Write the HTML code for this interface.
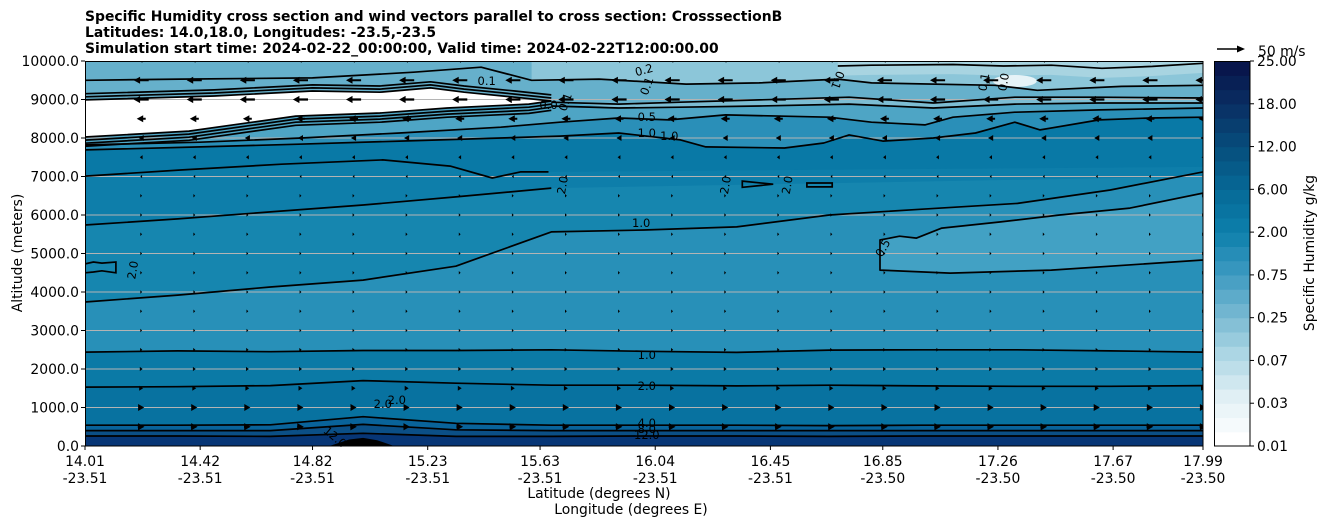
<!DOCTYPE html>
<html><head><meta charset="utf-8">
<style>
html,body{margin:0;padding:0;background:#fff;}
body{width:1326px;height:526px;overflow:hidden;font-family:"DejaVu Sans","Liberation Sans",sans-serif;}
svg{position:absolute;left:0;top:0;}
text{font-family:"DejaVu Sans","Liberation Sans",sans-serif;}
</style></head>
<body>
<svg id="chart" width="1326" height="526" viewBox="0 0 1326 526">
  <g font-weight="bold" font-size="13.9" fill="#000">
    <text x="85" y="21">Specific Humidity cross section and wind vectors parallel to cross section: CrosssectionB</text>
    <text x="85" y="37">Latitudes: 14.0,18.0, Longitudes: -23.5,-23.5</text>
    <text x="85" y="53">Simulation start time: 2024-02-22_00:00:00, Valid time: 2024-02-22T12:00:00.00</text>
  </g>
  <defs><clipPath id="plotclip"><rect x="85" y="61" width="1118" height="385"/></clipPath></defs>
  <g id="fills" clip-path="url(#plotclip)"></g>
  <g id="grid"></g>
  <g id="terrain" clip-path="url(#plotclip)"></g>
  <g id="contours" clip-path="url(#plotclip)"></g>
  <g id="clabels" font-size="11.5" fill="#000"></g>
  <g id="winds" clip-path="url(#plotclip)"></g>
  <rect x="85.5" y="61.5" width="1117.5" height="384.5" fill="none" stroke="#000" stroke-width="1"/>
  <g id="yaxis" font-size="13.9"></g>
  <g id="xaxis" font-size="13.9"></g>
  <text x="0" y="0" font-size="13.9" text-anchor="middle" transform="translate(22,253) rotate(-90)">Altitude (meters)</text>
  <text x="599" y="498" font-size="13.9" text-anchor="middle">Latitude (degrees N)</text>
  <text x="631" y="514" font-size="13.9" text-anchor="middle">Longitude (degrees E)</text>
  <g id="colorbar" font-size="13.9"></g>
  <text x="0" y="0" font-size="13.9" text-anchor="middle" transform="translate(1314,253) rotate(-90)">Specific Humidity g/kg</text>
  <g>
    <polygon points="1217,48.2 1237,48.2 1237,45.5 1245,49 1237,52.5 1237,49.8 1217,49.8" fill="#000"/>
    <text x="1258" y="56" font-size="13.9">50 m/s</text>
  </g>
</svg>
<script>
// ---- axis domains ----
const lonMin = 14.01, lonMax = 17.99, altMax = 10000;
// ---- x tick labels ----
const xTickLat = [14.01,14.42,14.82,15.23,15.63,16.04,16.45,16.85,17.26,17.67,17.99];
const xTickLon = ["-23.51","-23.51","-23.51","-23.51","-23.51","-23.51","-23.51","-23.50","-23.50","-23.50","-23.50"];
const yTicks = [0,1000,2000,3000,4000,5000,6000,7000,8000,9000,10000];
// ---- colorbar ----
const cbTickLabels = ["0.01","0.03","0.07","0.25","0.75","2.00","6.00","12.00","18.00","25.00"];
// ---- contour data (lon deg, altitude m) ----
const gridLon = [14.01,14.34,14.67,15.00,15.33,15.67,16.00,16.33,16.66,16.99,17.33,17.66,17.99];
const q12Alt = [260,260,250,330,250,250,260,260,250,260,260,260,260];
const q8Alt = [400,400,400,560,420,400,400,400,400,400,400,400,400];
const q4Alt = [540,540,550,760,590,540,540,540,530,540,540,540,540];
const q2LowAlt = [1530,1540,1570,1700,1630,1580,1580,1560,1580,1560,1550,1550,1570];
const q1LowAlt = [2440,2470,2450,2480,2480,2500,2460,2430,2490,2500,2500,2470,2440];
const q1UpAlt = [3740,3920,4130,4310,4670,5560,5610,5690,6000,6150,6300,6650,7120];
const q2MidLon = [14.01,14.34,14.67,15.00,15.33,15.67];
const q2MidAlt = [5740,5900,6080,6260,6470,6700];
const q2UpLon = [14.01,14.35,14.71,15.07,15.31,15.46,15.56,15.66];
const q2UpAlt = [7010,7170,7320,7430,7270,6960,7120,7120];
const q1TopLon = [14.01,14.42,14.77,15.13,15.49,15.70,15.91,16.13,16.22,16.50,16.64,16.73,16.85,17.03,17.18,17.32,17.41,17.62,17.80,17.99];
const q1TopAlt = [7690,7770,7840,7920,8000,8050,8130,7950,7770,7740,7870,8080,7920,8000,8130,8410,8210,8470,8520,8540];
const q05Lon = [14.01,14.42,14.78,15.13,15.49,15.70,15.91,16.09,16.29,16.66,16.81,17.00,17.10,17.32,17.62,17.99];
const q05Alt = [7820,7890,8000,8130,8280,8410,8520,8470,8600,8540,8410,8340,8540,8670,8730,8780];
const q05LoopLon = [17.99,17.73,17.48,17.27,17.06,16.97,16.91,16.84,16.84,17.09,17.45,17.99];
const q05LoopAlt = [6570,6180,6000,5820,5660,5400,5450,5350,4570,4490,4570,4830];
const wBotLon = [14.01,14.38,14.76,15.06,15.30,15.59,15.67];
const wBotAlt = [8025,8180,8570,8650,8780,8880,8960];
const wTopLon = [14.01,14.47,14.82,15.06,15.24,15.36,15.54,15.67];
const wTopAlt = [8990,9090,9220,9190,9300,9190,9060,8960];
const r1Lon = [15.67,15.91,16.13,16.41,16.73,17.03,17.32,17.62,17.99];
const r1Alt = [8930,8880,8930,8990,9060,8910,9060,9060,9040];
const r2Lon = [15.67,15.91,16.13,16.41,16.73,17.03,17.32,17.62,17.99];
const r2Alt = [8830,8780,8800,8830,8880,8780,8880,8910,8910];
const q01Lon = [14.01,14.35,14.82,15.18,15.42,15.60,15.84,16.15,16.41,16.69,16.81,17.25,17.40,17.70,17.99];
const q01Alt = [9500,9530,9560,9710,9840,9500,9530,9400,9430,9530,9430,9370,9240,9340,9370];
const qTopLon = [16.69,16.81,17.10,17.28,17.45,17.63,17.81,17.99];
const qTopAlt = [9870,9890,9910,9870,9890,9810,9860,9940];
const q2BlobLon = [16.35,16.46,16.35];
const q2BlobAlt = [6880,6800,6720];
const q2Blob2Lon = [16.58,16.67,16.67,16.58];
const q2Blob2Alt = [6830,6830,6730,6730];
const q2Blob0Lon = [14.01,14.04,14.07,14.12,14.12,14.07,14.04,14.01];
const q2Blob0Alt = [4730,4780,4750,4780,4500,4550,4520,4500];
const terrainLon = [14.88,14.95,15.0,15.05,15.11];
const terrainAlt = [0,170,210,150,0];
// ---- contour labels ----
const labelText = ["12.0","8.0","4.0","2.0","1.0","1.0","2.0","2.0","2.0","2.0","0.5","1.0","1.0","0.5","0.1","0.2","0.1","0.1","0.1","0.0","0.0","0.1","2.0","2.0","12.0"];
const labelLon = [16.01,16.01,16.01,16.01,16.01,15.99,15.71,14.18,16.29,16.51,16.85,16.01,16.09,16.01,15.44,16.00,16.01,16.69,17.21,17.28,15.66,15.72,15.07,15.12,14.90];
const labelAlt = [286,441,597,1558,2363,5791,6778,4571,6778,6778,5142,8129,8051,8544,9479,9765,9349,9505,9453,9453,8856,8934,1091,1195,234];
const labelRot = [0,0,0,0,0,0,-80,-80,-80,-80,-60,0,0,0,0,-15,-70,110,-80,-80,0,-70,0,0,40];
// ---- wind (u component along section, m/s) by altitude row ----
const windAlt = [500,1000,1500,2000,2500,3000,3500,4000,4500,5000,5500,6000,6500,7000,7500,8000,8500,9000,9500,10000];
const windU = [12,11,7,5,4,2,1.5,1,1,1,1,1,1,-1,-5,-9,-16,-27,-27,-4];

const NS = "http://www.w3.org/2000/svg";
const PX0 = 85, PX1 = 1203, PY0 = 446, PY1 = 61;
function X(l){ return PX0 + (l - lonMin) / (lonMax - lonMin) * (PX1 - PX0); }
function Y(a){ return PY0 - a / altMax * (PY0 - PY1); }
function mk(tag, attrs, parent){ const e = document.createElementNS(NS, tag); for (const k in attrs) e.setAttribute(k, attrs[k]); parent.appendChild(e); return e; }
function pts(lons, alts){ return lons.map((l,i) => X(l).toFixed(1) + "," + Y(alts[i]).toFixed(1)).join(" "); }
function abovePts(lons, alts){ return pts(lons, alts) + " " + X(lons[lons.length-1]).toFixed(1) + ",50 " + X(lons[0]).toFixed(1) + ",50"; }

// ---- fills ----
const fills = document.getElementById("fills");
let e = mk("rect", {x:85, y:61, width:1118, height:385, fill:"#073676"}, fills);


const fillProfiles = [
  [gridLon, q12Alt, "#0b4f86"],
  [gridLon, q8Alt, "#09639a"],
  [gridLon, q4Alt, "#0872a0"],
  [gridLon, q2LowAlt, "#0b7aa6"],
  [gridLon, q1LowAlt, "#2890b8"],
  [gridLon, q1UpAlt, "#1686af"],
  [q2MidLon.concat([lonMax]), q2MidAlt.concat([7000]), "#0e7eaa"],
  [q2UpLon.concat([lonMax]), q2UpAlt.concat([7250]), "#0979a6"],
  [q1TopLon, q1TopAlt, "#2a8fb8"],
  [q05Lon, q05Alt, "#4ea5c5"],
  [wBotLon.concat(r2Lon.slice(1)), wBotAlt.concat(r2Alt.slice(1)), "#7dbdd3"],
];
fillProfiles.forEach((f, i) => {
  const p = mk("polygon", {points: abovePts(f[0], f[1]), fill: f[2]}, fills);
  
  
});
e = mk("polygon", {points: pts(q05LoopLon, q05LoopAlt), fill:"#42a1c4"}, fills);


e = mk("polygon", {points: pts(wBotLon, wBotAlt) + " " + pts(wTopLon.slice().reverse(), wTopAlt.slice().reverse()), fill:"#ffffff"}, fills);


e = mk("polygon", {points: abovePts(wTopLon.concat(r1Lon.slice(1)), wTopAlt.concat(r1Alt.slice(1))), fill:"#66b0cb"}, fills);


e = mk("polygon", {points: abovePts(q01Lon.slice(5), q01Alt.slice(5)), fill:"#8cc6d9"}, fills);


e = mk("polygon", {points: abovePts(qTopLon, qTopAlt.map(a => a - 250)), fill:"#a8d4e1"}, fills);


e = mk("ellipse", {cx: X(17.32), cy: Y(9480), rx: 22, ry: 6, fill:"#e6f3f7"}, fills);



// ---- grid ----
const grid = document.getElementById("grid");
yTicks.slice(1, -1).forEach(t => {
  const g = mk("line", {x1:85, x2:1203, y1:Y(t), y2:Y(t), stroke:"#b4b4b4", "stroke-width":1}, grid);
  
  
});

// ---- terrain ----
e = mk("polygon", {points: pts(terrainLon, terrainAlt), fill:"#000"}, document.getElementById("terrain"));



// ---- contour lines ----
const cont = document.getElementById("contours");
const lineSets = [
  [gridLon, q12Alt], [gridLon, q8Alt], [gridLon, q4Alt], [gridLon, q2LowAlt], [gridLon, q1LowAlt],
  [gridLon, q1UpAlt], [q2MidLon, q2MidAlt], [q2UpLon, q2UpAlt], [q1TopLon, q1TopAlt], [q05Lon, q05Alt],
  [q05LoopLon, q05LoopAlt], [wBotLon, wBotAlt], [wTopLon, wTopAlt], [r1Lon, r1Alt], [r2Lon, r2Alt],
  [q01Lon, q01Alt], [qTopLon, qTopAlt],
  [wBotLon, wBotAlt.map(a => a - 80)], [wBotLon, wBotAlt.map(a => a - 160)], [wBotLon, wBotAlt.map(a => a - 240)],
  [wTopLon, wTopAlt.map(a => a + 80)], [wTopLon, wTopAlt.map(a => a + 160)]
];
lineSets.forEach(s => {
  const l = mk("polyline", {points: pts(s[0], s[1]), fill:"none", stroke:"#000", "stroke-width":1.7, "stroke-linejoin":"round"}, cont);
  
  
});
[[q2BlobLon, q2BlobAlt], [q2Blob2Lon, q2Blob2Alt], [q2Blob0Lon, q2Blob0Alt]].forEach(s => {
  const l = mk("polygon", {points: pts(s[0], s[1]), fill:"none", stroke:"#000", "stroke-width":1.7}, cont);
  
  
});

// ---- contour labels ----
const cl = document.getElementById("clabels");
labelText.forEach((t, i) => {
  const x = X(labelLon[i]), y = Y(labelAlt[i]);
  const tx = mk("text", {x:0, y:4, "text-anchor":"middle", transform:`translate(${x.toFixed(1)},${y.toFixed(1)}) rotate(${labelRot[i]})`}, cl);
  tx.textContent = t;
  
  
});

// ---- wind vectors ----
const winds = document.getElementById("winds");
const nCols = 21;
for (let r = 0; r < windAlt.length; r++) {
  for (let c = 0; c < nCols; c++) {
    const lon = 14.21 + c * (lonMax - 14.21) / (nCols - 1);
    const cx = X(lon), cy = Y(windAlt[r]);
    const u = windU[r];
    const s = u >= 0 ? 1 : -1;
    const L = Math.max(1.8, Math.abs(u) * 28 / 50);
    const x0 = cx - s * L / 2, x1 = cx + s * L / 2;
    const hl = Math.min(L, 6.5), hw = Math.min(3.6, 1 + L * 0.4), sw = 1.1;
    const xh = x1 - s * hl;
    const p = [[x0,cy-sw],[xh,cy-sw],[xh,cy-hw],[x1,cy],[xh,cy+hw],[xh,cy+sw],[x0,cy+sw]].map(q => q[0].toFixed(1)+","+q[1].toFixed(1)).join(" ");
    const a = mk("polygon", {points: p, fill:"#000"}, winds);
    
    
  }
}

// ---- y axis ----
const ya = document.getElementById("yaxis");
yTicks.forEach(t => {
  const y = Y(t);
  const tk = mk("line", {x1:81, x2:85, y1:y, y2:y, stroke:"#000"}, ya);
  
  
  const lb = mk("text", {x:79, y:y+5, "text-anchor":"end"}, ya);
  lb.textContent = t.toFixed(1);
  
  
});

// ---- x axis ----
const xa = document.getElementById("xaxis");
xTickLat.forEach((v, i) => {
  const x = X(v);
  const tk = mk("line", {x1:x, x2:x, y1:446, y2:450, stroke:"#000"}, xa);
  
  
  const lb = mk("text", {x:x, y:466, "text-anchor":"middle"}, xa);
  lb.textContent = v.toFixed(2);
  
  
  const lb2 = mk("text", {x:x, y:483, "text-anchor":"middle"}, xa);
  lb2.textContent = xTickLon[i];
  
  
});

// ---- colorbar ----
const cb = document.getElementById("colorbar");
const anchors = [[255,255,255],[226,240,245],[176,216,229],[120,185,210],[62,154,193],[13,128,172],[6,106,152],[6,80,126],[9,50,102],[8,22,76]];
const nBands = 27, cbTop = 61, cbBot = 446, cbH = (cbBot - cbTop) / nBands;
for (let b = 0; b < nBands; b++) {
  const t = b / (nBands - 1) * (anchors.length - 1);
  const i0 = Math.min(Math.floor(t), anchors.length - 2), f = t - i0;
  const col = anchors[i0].map((v, k) => Math.round(v + (anchors[i0+1][k] - v) * f));
  const r = mk("rect", {x:1214, y:(cbBot - (b+1)*cbH).toFixed(2), width:36, height:(cbH+0.6).toFixed(2), fill:`rgb(${col.join(",")})`}, cb);
  
  
}
e = mk("rect", {x:1214.5, y:61.5, width:35.5, height:384.5, fill:"none", stroke:"#000"}, cb);


cbTickLabels.forEach((t, i) => {
  const y = cbBot - i * (cbBot - cbTop) / (cbTickLabels.length - 1);
  const tk = mk("line", {x1:1250, x2:1254, y1:y, y2:y, stroke:"#000"}, cb);
  
  
  const lb = mk("text", {x:1257, y:y+5}, cb);
  lb.textContent = t;
  
  
});
</script>
</body></html>
